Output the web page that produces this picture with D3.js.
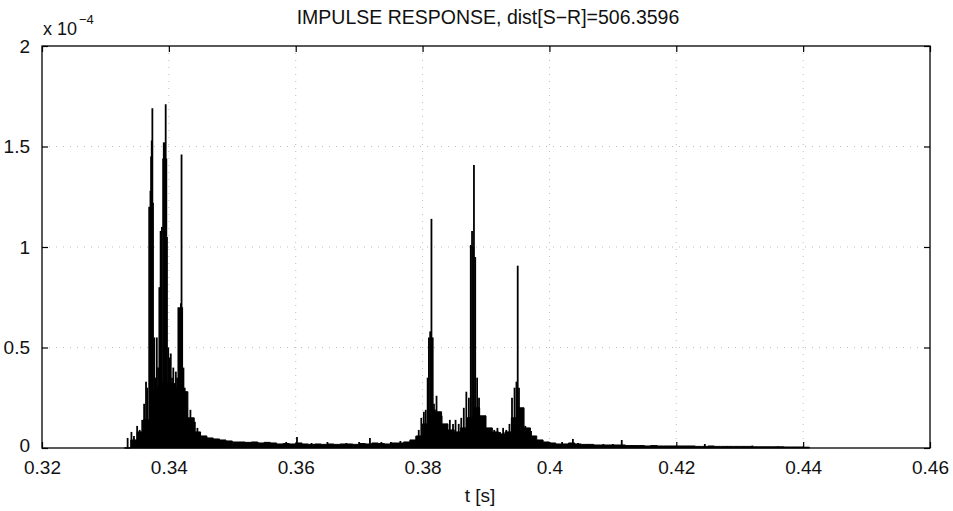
<!DOCTYPE html>
<html><head><meta charset="utf-8">
<script src="https://cdn.jsdelivr.net/npm/d3@7"></script>
<style>
html,body{margin:0;padding:0;background:#fff;}
svg{display:block;}
text{font-family:"Liberation Sans",Arial,Helvetica,sans-serif;fill:#111;}
</style></head>
<body>
<svg id="c" width="953" height="511"></svg>
<script>
// ---- data (amplitudes in units of 1e-4) ----
const title = "IMPULSE RESPONSE, dist[S\u2212R]=506.3596";
const xLabel = "t [s]";
const xTicks = [0.32, 0.34, 0.36, 0.38, 0.40, 0.42, 0.44, 0.46];
const xTickLabels = ["0.32", "0.34", "0.36", "0.38", "0.4", "0.42", "0.44", "0.46"];
const yTicks = [0, 0.5, 1, 1.5, 2];
const yTickLabels = ["0", "0.5", "1", "1.5", "2"];

// floor level of the dense response, one value per millisecond from 0.333 s
const floorStart = 0.333;
const floorStep = 0.001;
const floorValues = [
  0, 0.04, 0.08, 0.14, 0.28, 0.30, 0.32, 0.32, 0.30, 0.28,
  0.15, 0.08, 0.06, 0.05, 0.045, 0.04, 0.035, 0.03, 0.03, 0.028,
  0.03, 0.025, 0.028, 0.025, 0.02, 0.022, 0.02, 0.025, 0.02, 0.018,
  0.02, 0.018, 0.02, 0.018, 0.02, 0.02, 0.018, 0.022, 0.02, 0.025,
  0.022, 0.02, 0.025, 0.025, 0.03, 0.04, 0.06, 0.12, 0.19, 0.18,
  0.12, 0.09, 0.08, 0.10, 0.15, 0.20, 0.16, 0.10, 0.08, 0.07,
  0.08, 0.15, 0.20, 0.10, 0.06, 0.04, 0.03, 0.025, 0.02, 0.02,
  0.025, 0.02, 0.018, 0.018, 0.015, 0.015, 0.015, 0.015, 0.015, 0.012,
  0.012, 0.012, 0.01, 0.012, 0.01, 0.01, 0.01, 0.01, 0.01, 0.01,
  0.008, 0.008, 0.01, 0.008, 0.008, 0.008, 0.008, 0.008, 0.008, 0.006,
  0.006, 0.006, 0.006, 0.006, 0.005, 0.005, 0.005, 0.004, 0
];

// individual reflections (time in s)
const spikeTimes = [
  0.3335, 0.3341, 0.3345, 0.3350, 0.3354, 0.3358, 0.3361, 0.3364, 0.3366, 0.3369,
  0.3371, 0.3372, 0.3373, 0.3374, 0.3375, 0.3377, 0.3379, 0.3381, 0.3383, 0.3385,
  0.3387, 0.3389, 0.3391, 0.3392, 0.3393, 0.3395, 0.3396, 0.3397, 0.3399, 0.3401,
  0.3403, 0.3405, 0.3407, 0.3409, 0.3411, 0.3413, 0.3415, 0.3417, 0.3419, 0.3420,
  0.3421, 0.3423, 0.3425, 0.3428, 0.3431, 0.3434, 0.3437, 0.3441, 0.3445, 0.3449,
  0.3455, 0.3462, 0.3470, 0.3480, 0.3492, 0.3505, 0.3520, 0.3540, 0.3560, 0.3585,
  0.3602, 0.3625, 0.3650, 0.3680, 0.3700, 0.3717, 0.3735, 0.3750, 0.3765,
  0.3783, 0.3790, 0.3794, 0.3798, 0.3802, 0.3805, 0.3808, 0.3810, 0.3812, 0.3814,
  0.3816, 0.3818, 0.3822, 0.3826, 0.3830, 0.3834, 0.3838, 0.3843, 0.3848, 0.3852,
  0.3857, 0.3861, 0.3865, 0.3869, 0.3873, 0.3876, 0.3878, 0.3880, 0.3881, 0.3883,
  0.3886, 0.3889, 0.3893, 0.3898, 0.3903, 0.3908, 0.3913, 0.3918, 0.3922, 0.3927,
  0.3932, 0.3937, 0.3941, 0.3945, 0.3948, 0.3950, 0.3952, 0.3955, 0.3958, 0.3962,
  0.3966, 0.3971, 0.3977, 0.3985, 0.3995, 0.4005, 0.4020, 0.4037, 0.4045, 0.4060,
  0.4085, 0.4100, 0.4114, 0.4130, 0.4160, 0.4200, 0.4245, 0.4280, 0.4320, 0.4360,
  0.4400
];
const spikeValues = [
  0.05, 0.08, 0.06, 0.11, 0.09, 0.14, 0.22, 0.33, 0.30, 1.20,
  1.28, 1.45, 1.53, 1.69, 1.22, 0.55, 0.35, 0.55, 0.40, 0.80,
  1.08, 1.10, 1.44, 1.52, 1.52, 1.71, 1.44, 1.05, 0.50, 0.45,
  0.47, 0.35, 0.40, 0.30, 0.38, 0.35, 0.70, 0.70, 0.72, 1.46,
  0.70, 0.40, 0.30, 0.20, 0.14, 0.19, 0.12, 0.13, 0.10, 0.08,
  0.06, 0.05, 0.045, 0.04, 0.035, 0.03, 0.03, 0.03, 0.025, 0.03,
  0.055, 0.025, 0.03, 0.025, 0.03, 0.05, 0.03, 0.03, 0.035,
  0.035, 0.06, 0.09, 0.15, 0.18, 0.19, 0.35, 0.55, 0.58, 1.14,
  0.55, 0.22, 0.26, 0.14, 0.16, 0.11, 0.12, 0.14, 0.12, 0.14,
  0.12, 0.15, 0.20, 0.28, 0.25, 1.01, 1.08, 1.00, 1.408, 0.95,
  0.35, 0.25, 0.15, 0.11, 0.09, 0.08, 0.09, 0.10, 0.08, 0.10,
  0.09, 0.12, 0.25, 0.30, 0.33, 0.907, 0.30, 0.12, 0.10, 0.11,
  0.09, 0.085, 0.05, 0.04, 0.03, 0.025, 0.03, 0.045, 0.025, 0.02,
  0.02, 0.02, 0.04, 0.015, 0.012, 0.01, 0.02, 0.01, 0.012, 0.008,
  0.006
];

// ---- drawing ----
const svg = d3.select("#c");
const L = 42, R = 930, T = 46, B = 448;
const x = d3.scaleLinear().domain([0.32, 0.46]).range([L, R]);
const y = d3.scaleLinear().domain([0, 2]).range([B, T]);

// grid (dotted, faint)
const grid = svg.append("g").attr("stroke", "#bdbdbd").attr("stroke-width", 1)
  .attr("stroke-dasharray", "1,6");
grid.selectAll("line.gx").data(xTicks.slice(1, -1)).join("line")
  .attr("x1", d => x(d)).attr("x2", d => x(d)).attr("y1", T).attr("y2", B);
grid.selectAll("line.gy").data(yTicks.slice(1, -1)).join("line")
  .attr("x1", L).attr("x2", R).attr("y1", d => y(d)).attr("y2", d => y(d));

// floor area
const floorData = floorValues.map((v, i) => [floorStart + i * floorStep, v]);
svg.append("path").datum(floorData)
  .attr("fill", "#000").attr("stroke", "#000").attr("stroke-width", 1)
  .attr("d", d3.area().x(d => x(d[0])).y0(y(0)).y1(d => y(d[1])).curve(d3.curveStepAfter));

// spikes
const spikes = spikeTimes.map((t, i) => [t, spikeValues[i]]);
svg.append("g").attr("stroke", "#000").attr("stroke-width", 1.8)
  .selectAll("line").data(spikes).join("line")
  .attr("x1", d => x(d[0])).attr("x2", d => x(d[0]))
  .attr("y1", y(0)).attr("y2", d => y(d[1]));

// box
svg.append("rect").attr("x", L).attr("y", T).attr("width", R - L).attr("height", B - T)
  .attr("fill", "none").attr("stroke", "#000").attr("stroke-width", 1.3);

// axes with inward ticks
const tk = 6;
const axB = d3.axisBottom(x).tickValues(xTicks).tickFormat((d, i) => xTickLabels[i]).tickSize(-tk).tickPadding(tk + 7);
const gB = svg.append("g").attr("transform", `translate(0,${B})`).call(axB);
const axT = d3.axisTop(x).tickValues(xTicks).tickFormat("").tickSize(-tk);
const gT = svg.append("g").attr("transform", `translate(0,${T})`).call(axT);
const axL = d3.axisLeft(y).tickValues(yTicks).tickFormat((d, i) => yTickLabels[i]).tickSize(-tk).tickPadding(tk + 6);
const gL = svg.append("g").attr("transform", `translate(${L},0)`).call(axL);
const axR = d3.axisRight(y).tickValues(yTicks).tickFormat("").tickSize(-tk);
const gR = svg.append("g").attr("transform", `translate(${R},0)`).call(axR);
[gB, gT, gL, gR].forEach(g => {
  g.select(".domain").remove();
  g.selectAll(".tick line").attr("stroke", "#000").attr("stroke-width", 1.2);
  g.selectAll("text").attr("font-size", 19).attr("fill", "#111")
    .attr("font-family", '"Liberation Sans",Arial,Helvetica,sans-serif');
});
gB.selectAll(".tick text").attr("dy", "0.71em");
gL.selectAll(".tick").filter(d => d === 0).select("text").attr("dy", "0.2em");

// title
svg.append("text").attr("x", 488).attr("y", 24).attr("text-anchor", "middle")
  .attr("font-size", 19.5).text(title);

// exponent
const ex = svg.append("text").attr("x", 43).attr("y", 35).attr("font-size", 18);
ex.append("tspan").text("x 10");
ex.append("tspan").attr("font-size", 13).attr("dy", -11).attr("dx", 2).text("\u22124");

// x label
svg.append("text").attr("x", 480).attr("y", 502).attr("text-anchor", "middle")
  .attr("font-size", 19).text(xLabel);
</script>
</body></html>
